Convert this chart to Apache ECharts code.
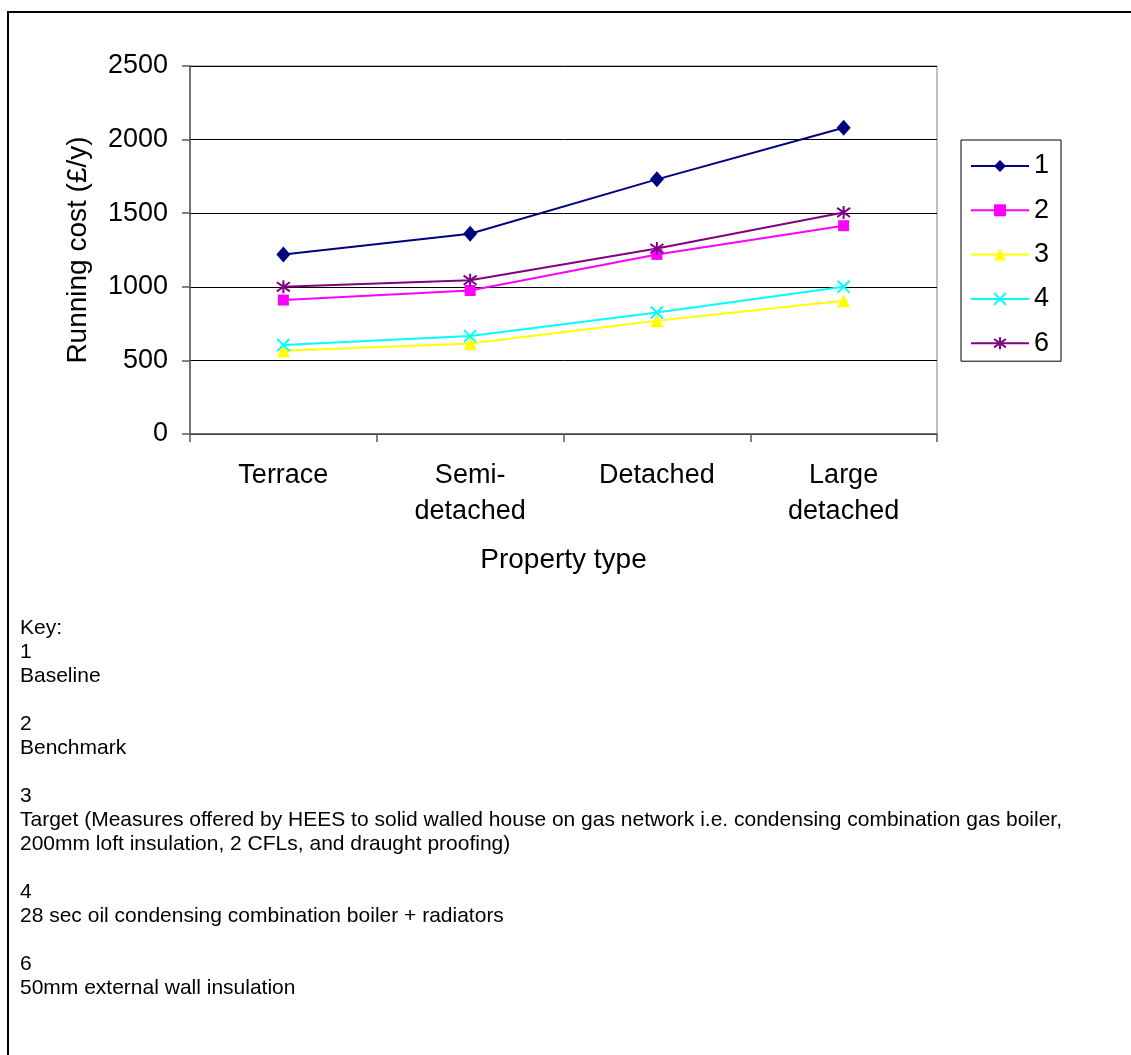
<!DOCTYPE html>
<html>
<head>
<meta charset="utf-8">
<script src="https://cdn.jsdelivr.net/npm/echarts@6/dist/echarts.min.js"></script>
<style>
  html, body { margin: 0; padding: 0; background: #fff; }
  #chart { width: 1131px; height: 1055px; }
</style>
</head>
<body>
<div id="chart"></div>
<script>
// Property types along the x axis
const propertyTypes = ['Terrace', 'Semi-\ndetached', 'Detached', 'Large\ndetached'];

// Running cost (£/y) per scenario
const seriesNames = ['1', '2', '3', '4', '6'];
const baseline    = [1220, 1360, 1730, 2080];
const benchmark   = [910, 975, 1220, 1415];
const target      = [565, 615, 770, 905];
const oilBoiler   = [605, 665, 825, 1000];
const wallInsul   = [1000, 1045, 1260, 1505];

// Y axis range
const yMin = 0, yMax = 2500, yStep = 500;

// Key text below the chart
const keyTitle = 'Key:';
const keyDescriptions = [
  'Baseline',
  'Benchmark',
  'Target (Measures offered by HEES to solid walled house on gas network i.e. condensing combination gas boiler,\n200mm loft insulation, 2 CFLs, and draught proofing)',
  '28 sec oil condensing combination boiler + radiators',
  '50mm external wall insulation'
];

const FONT = '"Liberation Sans", Arial, sans-serif';

const seriesValues = [baseline, benchmark, target, oilBoiler, wallInsul];
const colors = ['#000080', '#FF00FF', '#FFFF00', '#00FFFF', '#800080'];
const crossPath = 'path://M0,0L10,10M10,0L0,10';
const starPath = 'path://M5,0L5,10M0,1.5L10,8.5M10,1.5L0,8.5';
const markers = [
  { symbol: 'diamond', size: [14, 16], stroke: false },
  { symbol: 'rect', size: 11, stroke: false },
  { symbol: 'triangle', size: 13, stroke: false },
  { symbol: crossPath, size: 12, stroke: true },
  { symbol: starPath, size: 13, stroke: true }
];

const series = seriesNames.map((name, i) => {
  const m = markers[i];
  return {
    name: name,
    type: 'line',
    data: seriesValues[i],
    symbol: m.symbol,
    symbolSize: m.size,
    showAllSymbol: true,
    lineStyle: { color: colors[i], width: 2 },
    itemStyle: m.stroke
      ? { color: 'rgba(0,0,0,0)', borderColor: colors[i], borderWidth: 2 }
      : { color: colors[i], borderWidth: 0 },
    emphasis: { disabled: true },
    z: 3
  };
});

// Key lines: number followed by its description, blank line between entries
const keyLines = [keyTitle];
seriesNames.forEach((n, i) => {
  keyLines.push(n);
  keyLines.push(keyDescriptions[i]);
  if (i < seriesNames.length - 1) keyLines.push('');
});

const chart = echarts.init(document.getElementById('chart'), null, { renderer: 'canvas' });
chart.setOption({
  animation: false,
  backgroundColor: '#ffffff',
  textStyle: { fontFamily: FONT },
  grid: {
    left: 190, top: 66, width: 747, height: 368,
    show: true, borderColor: '#808080', borderWidth: 1
  },
  legend: {
    orient: 'vertical',
    left: 961, top: 140,
    padding: [12, 12, 4, 9],
    itemWidth: 58,
    itemHeight: 15,
    itemGap: 16.3,
    borderColor: '#000',
    borderWidth: 1,
    backgroundColor: '#fff',
    textStyle: { fontFamily: FONT, fontSize: 27, color: '#000', lineHeight: 28 },
    data: seriesNames
  },
  xAxis: {
    type: 'category',
    data: propertyTypes,
    boundaryGap: true,
    name: 'Property type',
    nameLocation: 'middle',
    nameGap: 112,
    nameTextStyle: { fontFamily: FONT, fontSize: 28, color: '#000' },
    axisLine: { lineStyle: { color: '#595959', width: 1.5 } },
    axisTick: { show: true, length: 8, alignWithLabel: false, lineStyle: { color: '#595959', width: 1.5 } },
    axisLabel: { fontFamily: FONT, fontSize: 27, color: '#000', lineHeight: 36, margin: 24, interval: 0 },
    splitLine: { show: false }
  },
  yAxis: {
    type: 'value',
    min: yMin, max: yMax, interval: yStep,
    name: 'Running cost (£/y)',
    nameLocation: 'middle',
    nameGap: 98,
    nameRotate: 90,
    nameTextStyle: { fontFamily: FONT, fontSize: 28, color: '#000' },
    axisLine: { show: true, lineStyle: { color: '#595959', width: 1.5 } },
    axisTick: { show: true, length: 8, lineStyle: { color: '#595959', width: 1.5 } },
    axisLabel: {
      fontFamily: FONT, fontSize: 27, color: '#000', margin: 22,
      padding: [5, 0, 0, 0],
      formatter: v => String(v)
    },
    splitLine: { show: true, lineStyle: { color: '#000', width: 1 } }
  },
  series: series,
  graphic: [
    {
      type: 'rect',
      shape: { x: 8, y: 12, width: 1300, height: 1200 },
      style: { fill: 'none', stroke: '#000', lineWidth: 2 },
      silent: true,
      z: 0
    },
    {
      type: 'text',
      left: 20, top: 616,
      style: {
        text: keyLines.join('\n'),
        font: '21px ' + FONT,
        lineHeight: 24,
        fill: '#000'
      },
      silent: true
    }
  ]
});
</script>
</body>
</html>
